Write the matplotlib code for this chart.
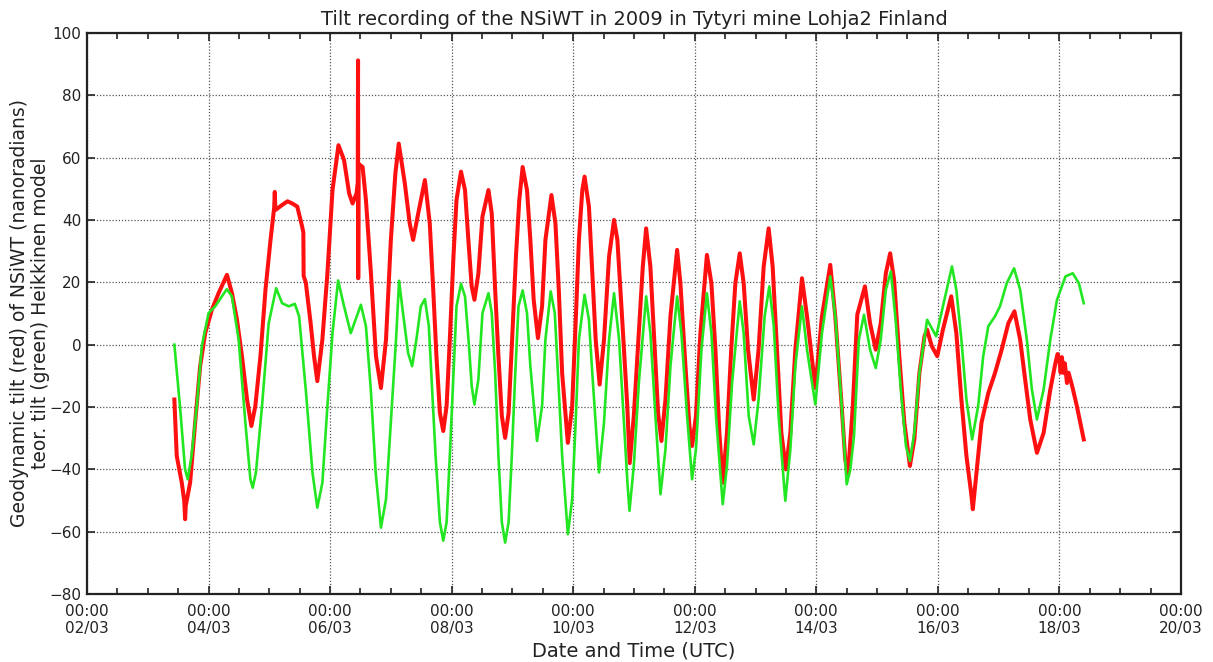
import matplotlib.pyplot as plt

# time in days of March 2009 (UTC), values in nanoradians
red_days = [3.438, 3.477, 3.56, 3.60, 3.615, 3.625, 3.697, 3.78, 3.862, 3.945, 4.055, 4.165,
            4.303, 4.386, 4.468, 4.55, 4.634, 4.705, 4.77, 4.854, 4.937, 5.02, 5.08, 5.09,
            5.10, 5.21, 5.30, 5.377, 5.46, 5.54, 5.56, 5.565, 5.60, 5.68, 5.736, 5.79,
            5.873, 5.956, 6.04, 6.138, 6.23, 6.314, 6.37, 6.435, 6.455, 6.46, 6.463, 6.468,
            6.535, 6.59, 6.672, 6.755, 6.837, 6.92, 7.0, 7.074, 7.13, 7.23, 7.31, 7.366,
            7.45, 7.56, 7.64, 7.697, 7.75, 7.807, 7.862, 7.917, 7.97, 8.03, 8.08, 8.154,
            8.22, 8.275, 8.33, 8.375, 8.44, 8.507, 8.606, 8.66, 8.716, 8.77, 8.826, 8.88,
            8.937, 8.99, 9.058, 9.113, 9.168, 9.24, 9.295, 9.35, 9.42, 9.488, 9.543, 9.642,
            9.708, 9.763, 9.818, 9.912, 9.983, 10.04, 10.094, 10.15, 10.187, 10.259, 10.314,
            10.37, 10.435, 10.507, 10.59, 10.672, 10.727, 10.81, 10.89, 10.93, 10.997, 11.08,
            11.145, 11.2, 11.27, 11.342, 11.397, 11.452, 11.518, 11.6, 11.71, 11.764, 11.847,
            11.912, 11.956, 12.02, 12.093, 12.2, 12.274, 12.34, 12.405, 12.46, 12.53, 12.6,
            12.668, 12.74, 12.805, 12.877, 12.97, 13.05, 13.134, 13.216, 13.282, 13.353,
            13.425, 13.5, 13.573, 13.655, 13.764, 13.847, 13.984, 14.093, 14.23, 14.312,
            14.41, 14.476, 14.52, 14.60, 14.674, 14.8, 14.884, 14.978, 15.06, 15.144, 15.215,
            15.28, 15.365, 15.448, 15.54, 15.613, 15.696, 15.78, 15.823, 15.9, 15.99, 16.083,
            16.22, 16.304, 16.387, 16.47, 16.55, 16.575, 16.6, 16.635, 16.718, 16.83, 16.94,
            17.05, 17.16, 17.26, 17.354, 17.436, 17.52, 17.63, 17.74, 17.85, 17.934, 17.97,
            18.0, 18.02, 18.04, 18.07, 18.09, 18.124, 18.15, 18.21, 18.287, 18.4]
red_vals = [-17.6, -35.7, -44.3, -50.0, -56.0, -51.7, -44.3, -25.0, -6.9, 3.7, 11.2, 16.5,
            22.4, 16.5, 8.0, -3.7, -17.6, -26.1, -19.7, -3.7, 17.6, 33.6, 44.0, 49.0,
            43.2, 44.8, 46.0, 45.3, 44.3, 37.9, 36.0, 22.0, 20.0, 6.9, -3.7, -11.7,
            1.6, 22.9, 49.6, 64.0, 59.2, 48.5, 45.3, 48.5, 52.0, 91.2, 21.3, 58.0,
            57.0, 46.4, 22.9, -3.7, -13.9, 1.6, 33.6, 54.9, 64.5, 51.7, 38.9, 33.6,
            42.1, 52.8, 38.9, 17.6, -3.7, -21.9, -27.7, -19.7, 1.6, 28.3, 46.4, 55.5,
            49.6, 33.6, 18.7, 14.4, 22.9, 41.1, 49.6, 42.1, 17.6, -3.7, -22.9, -29.9,
            -21.9, -0.5, 28.3, 46.4, 57.0, 49.6, 33.6, 14.4, 2.1, 12.3, 33.6, 48.0,
            38.9, 17.6, -9.1, -31.5, -19.7, 6.9, 33.6, 49.6, 53.9, 44.3, 22.9,
            1.6, -12.8, 1.6, 28.3, 40.0, 33.6, 6.9, -19.7, -38.0, -22.9, 3.7,
            25.0, 37.3, 25.0, -1.6, -21.9, -30.9, -17.6, 9.1, 30.4, 19.7, -6.9,
            -26.1, -32.5, -22.9, 3.7, 28.8, 19.7, -1.6, -28.3, -44.3, -28.3, -1.6,
            19.7, 29.3, 19.7, -1.6, -17.6, -1.6, 25.0, 37.3, 25.0, -1.6,
            -28.3, -40.0, -28.3, -1.6, 21.3, 9.1, -13.9, 9.1, 25.6, 9.1,
            -17.6, -36.8, -42.1, -20.0, 9.6, 18.7, 6.9, -1.6, 6.9, 22.9, 29.3,
            20.8, -3.7, -25.0, -38.9, -30.4, -9.1, 2.7, 4.8, -0.5, -3.7, 4.8,
            15.5, 3.7, -17.6, -35.7, -48.0, -52.8, -48.0, -41.0, -25.0, -15.5, -9.1,
            -1.6, 6.9, 10.7, 1.6, -11.2, -24.0, -34.7, -28.3, -14.4, -5.9, -3.0,
            -4.8, -9.0, -4.0, -9.1, -6.0, -12.3, -9.0, -13.3, -19.7, -30.4]

green_days = [3.438, 3.53, 3.614, 3.658, 3.72, 3.807, 3.89, 4.0, 4.11, 4.22, 4.30, 4.385,
              4.496, 4.606, 4.689, 4.727, 4.78, 4.88, 4.99, 5.113, 5.21, 5.32, 5.42, 5.49,
              5.6, 5.71, 5.79, 5.873, 5.956, 6.04, 6.132, 6.23, 6.34, 6.507, 6.59, 6.67,
              6.75, 6.837, 6.92, 7.0, 7.085, 7.135, 7.2, 7.284, 7.35, 7.42, 7.493, 7.56,
              7.625, 7.68, 7.736, 7.807, 7.862, 7.917, 7.97, 8.03, 8.08, 8.154, 8.22, 8.286,
              8.33, 8.375, 8.44, 8.507, 8.606, 8.66, 8.716, 8.77, 8.826, 8.88, 8.937, 8.99,
              9.047, 9.1, 9.168, 9.24, 9.295, 9.405, 9.488, 9.543, 9.63, 9.697, 9.763, 9.818,
              9.912, 9.983, 10.04, 10.094, 10.187, 10.259, 10.314, 10.424, 10.507, 10.59,
              10.672, 10.755, 10.835, 10.895, 10.926, 10.997, 11.08, 11.2, 11.27, 11.353,
              11.436, 11.518, 11.6, 11.71, 11.78, 11.874, 11.956, 12.02, 12.11, 12.2, 12.274,
              12.35, 12.46, 12.53, 12.614, 12.74, 12.805, 12.888, 12.97, 13.05, 13.15, 13.227,
              13.3, 13.38, 13.49, 13.573, 13.655, 13.764, 13.847, 13.984, 14.093, 14.23,
              14.312, 14.41, 14.5, 14.56, 14.62, 14.7, 14.785, 14.884, 14.978, 15.06, 15.144,
              15.227, 15.31, 15.39, 15.475, 15.54, 15.613, 15.696, 15.823, 15.972, 16.083,
              16.232, 16.304, 16.387, 16.47, 16.564, 16.663, 16.746, 16.83, 16.94, 17.022,
              17.133, 17.254, 17.354, 17.464, 17.547, 17.63, 17.74, 17.85, 17.96, 18.1,
              18.22, 18.32, 18.4]
green_vals = [0.0, -19.7, -40.0, -43.2, -35.7, -19.7, -0.5, 10.1, 12.3, 15.5, 17.8, 15.5,
              1.6, -25.0, -43.2, -45.9, -41.0, -19.7, 6.9, 18.1, 13.3, 12.3, 13.1, 9.1,
              -14.4, -41.0, -52.3, -44.3, -19.7, 3.7, 20.6, 12.3, 3.7, 12.8, 5.9, -14.4,
              -41.0, -58.7, -49.6, -25.0, 1.6, 20.5, 10.1, -2.7, -6.9, 1.6, 12.3, 14.6,
              5.9, -14.4, -35.7, -57.0, -62.9, -57.0, -35.7, -9.1, 12.3, 19.5, 15.5, -0.5,
              -13.3, -19.2, -11.2, 10.1, 16.5, 10.1, -9.1, -35.7, -57.0, -63.5, -57.0, -35.7,
              -9.1, 12.3, 17.4, 10.1, -6.9, -30.9, -19.7, 1.6, 17.1, 10.1, -14.4, -35.7,
              -60.8, -49.6, -25.0, 1.6, 16.0, 8.0, -9.1, -41.0, -25.0, 1.6,
              16.5, 1.6, -25.0, -45.0, -53.3, -38.9, -12.3, 15.5, 3.7, -22.9,
              -48.0, -33.6, -6.9, 15.5, 3.7, -22.9, -43.2, -33.6, -1.6, 16.5, 3.7,
              -22.9, -51.2, -38.9, -12.3, 13.9, 3.7, -22.9, -32.0, -17.6, 9.1, 18.7,
              5.9, -22.9, -50.1, -33.6, -6.9, 12.3, -1.6, -19.2, 3.7, 21.9,
              9.1, -17.6, -44.8, -40.0, -29.3, 1.6, 9.6, -1.6, -7.5, 1.6, 17.6,
              23.5, 6.9, -14.4, -32.5, -37.3, -28.3, -9.1, 8.0, 2.7, 12.3,
              25.1, 17.6, 1.6, -17.6, -30.4, -19.7, -3.7, 5.9, 9.1, 12.3,
              19.7, 24.5, 17.6, 1.6, -14.4, -24.0, -14.4, 1.6, 14.4, 21.9,
              22.9, 19.7, 13.3]

tick_days = [2, 4, 6, 8, 10, 12, 14, 16, 18, 20]
tick_labels = ["00:00\n02/03", "00:00\n04/03", "00:00\n06/03", "00:00\n08/03",
               "00:00\n10/03", "00:00\n12/03", "00:00\n14/03", "00:00\n16/03",
               "00:00\n18/03", "00:00\n20/03"]

txt = "#222222"

fig = plt.figure(figsize=(12.13, 6.62), dpi=100)
ax = fig.add_axes([0.0717, 0.1027, 0.9019, 0.8475])

ax.plot(red_days, red_vals, color="#ff1010", lw=2.9, solid_joinstyle="round", zorder=3)
ax.plot(green_days, green_vals, color="#22e622", lw=1.9, solid_joinstyle="round", zorder=4)

ax.set_xlim(2, 20)
ax.set_ylim(-80, 100)
ax.set_xticks(tick_days)
ax.set_xticklabels(tick_labels)
ax.set_xticks([d + 0.5 * k for d in tick_days[:-1] for k in (1, 2, 3)], minor=True)
ax.set_yticks(range(-80, 101, 20))

ax.tick_params(axis="both", which="both", direction="in", top=True, right=True,
               labelsize=11, colors=txt)
ax.tick_params(axis="both", which="major", length=6, width=1.2)
ax.tick_params(axis="x", which="minor", length=4, width=1.2)
ax.tick_params(axis="x", which="major", pad=7)
ax.tick_params(axis="y", which="major", pad=4)
for s in ax.spines.values():
    s.set_linewidth(1.6)
    s.set_color(txt)

ax.grid(True, which="major", linestyle=(0, (1, 1.5)), color="#555555", lw=0.9)

ax.set_title("Tilt recording of the NSiWT in 2009 in Tytyri mine Lohja2 Finland",
             fontsize=14, color=txt, pad=6)
ax.set_xlabel("Date and Time (UTC)", fontsize=14, color=txt, labelpad=4)
ax.set_ylabel("Geodynamic tilt (red) of NSiWT (nanoradians)\nteor. tilt (green) Heikkinen model",
              fontsize=13.5, color=txt, linespacing=1.1)
ax.yaxis.set_label_coords(-0.034, 0.5)

fig.savefig("out.png", dpi=100)
